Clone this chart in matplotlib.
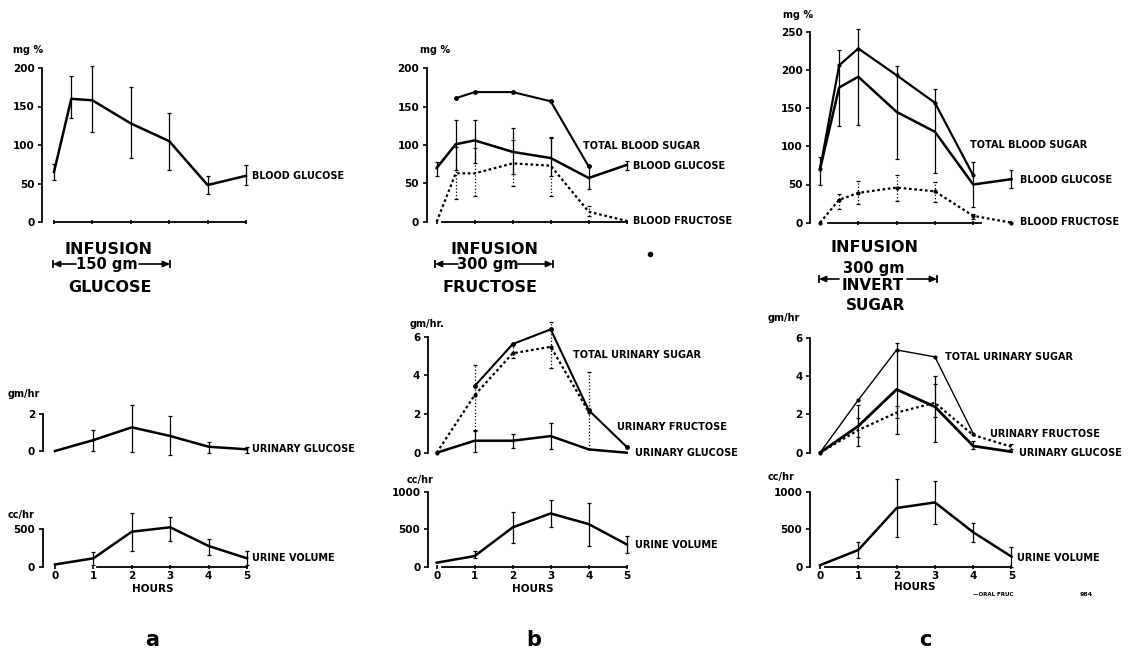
import matplotlib
matplotlib.use("Agg")
import matplotlib.pyplot as plt
from matplotlib.patches import FancyArrowPatch

# --- DATA ---
hours = [0, 1, 2, 3, 4, 5]

# column a : 150 gm glucose
a_bg_hours = [0, 0.45, 1, 2, 3, 4, 5]
a_bg = [65, 160, 158, 128, 105, 48, 60]
a_bg_lo = [55, 135, 117, 83, 68, 37, 48]
a_bg_hi = [75, 190, 202, 175, 142, 60, 74]

a_ug = [0, 0.59, 1.28, 0.81, 0.23, 0.09]
a_ug_lo = [None, 0.02, -0.04, -0.22, -0.09, -0.13]
a_ug_hi = [None, 1.13, 2.47, 1.89, 0.50, 0.23]

a_vol = [30, 112, 468, 527, 277, 112]
a_vol_lo = [None, 22, 214, 348, 156, 22]
a_vol_hi = [None, 196, 714, 668, 366, 210]

# column b : 300 gm fructose
b_tbs_hours = [0.5, 1, 2, 3, 4]
b_tbs = [161, 169, 169, 157, 72]
b_bg_hours = [0, 0.5, 1, 2, 3, 4, 5]
b_bg = [70, 101, 106, 91, 83, 57, 74]
b_bg_lo = [59, 67, 76, 62, 60, 43, 68]
b_bg_hi = [78, 132, 133, 122, 109, 72, 79]
b_bf = [0, 63, 63, 76, 73, 13, 1]
b_bf_lo = [None, 30, 33, 46, 34, 7, None]
b_bf_hi = [None, 98, 96, 106, 111, 20, None]

b_tus_hours = [1, 2, 3, 4, 5]
b_tus = [3.45, 5.62, 6.38, 2.2, 0.3]
b_uf_hours = [0, 1, 2, 3, 4]
b_uf = [0, 2.98, 5.14, 5.48, 2.12]
b_uf_lo = [None, 1.17, 4.9, 4.36, 0.2]
b_uf_hi = [None, 4.53, 5.6, 6.78, 4.19]
b_ug = [0, 0.62, 0.62, 0.86, 0.17, 0.0]
b_ug_lo = [None, 0.05, 0.22, 0.17, None, None]
b_ug_hi = [None, 1.14, 0.97, 1.55, None, None]

b_vol = [54, 143, 527, 714, 571, 299]
b_vol_lo = [None, 112, 321, 536, 277, 179]
b_vol_hi = [None, 214, 737, 893, 848, 411]

# column c : 300 gm invert sugar
c_tbs_hours = [0, 0.5, 1, 2, 3, 4]
c_tbs = [70, 206, 228, 193, 157, 62]
c_bg_hours = [0, 0.5, 1, 2, 3, 4, 5]
c_bg = [70, 177, 191, 145, 119, 50, 57]
c_bg_lo = [49, 127, 128, 83, 65, 21, 45]
c_bg_hi = [86, 226, 253, 205, 175, 79, 69]
c_bf = [0, 30, 39, 46, 41, 9, 0]
c_bf_lo = [None, 18, 25, 28, 27, 5, None]
c_bf_hi = [None, 37, 55, 62, 53, 12, None]

c_tus_hours = [0, 1, 2, 3, 4]
c_tus = [0, 2.75, 5.36, 5.0, 1.0]
c_ug = [0, 1.39, 3.3, 2.4, 0.35, 0.05]
c_ug_lo = [None, 0.35, 0.96, 0.57, 0.2, None]
c_ug_hi = [None, 2.49, 5.74, 4.0, 0.6, None]
c_uf = [0, 1.18, 2.09, 2.6, 0.92, 0.31]
c_uf_lo = [None, 0.8, 1.79, 1.84, None, 0.2]
c_uf_hi = [None, 1.8, 2.43, 3.58, None, 0.45]

c_vol = [20, 224, 786, 862, 462, 135]
c_vol_lo = [None, 112, 395, 574, 336, 0]
c_vol_hi = [None, 327, 1177, 1146, 592, 260]

# --- FIGURE ---
W, H = 1136, 654
plt.rcParams["font.family"] = "DejaVu Sans"
plt.rcParams["font.weight"] = "bold"
fig = plt.figure(figsize=(W / 100, H / 100), dpi=100)

DOT = (0, (1.2, 1.2))
FS = 7


def panel(x0, pph, y0, ppu, ylim, yticks, spine_top, base=None, xlabels=False,
          spine_h=-0.27, xlim=(-0.6, 5.6)):
    # place axes so that hour 0 sits at pixel x0 and value 0 at pixel y0
    left = (x0 + xlim[0] * pph) / W
    width = (xlim[1] - xlim[0]) * pph / W
    bot_px = y0 - ylim[0] * ppu
    top_px = y0 - ylim[1] * ppu
    ax = fig.add_axes([left, 1 - bot_px / H, width, (bot_px - top_px) / H])
    ax.set_xlim(xlim)
    ax.set_ylim(ylim)
    ax.patch.set_alpha(0)
    for s in ["top", "right"]:
        ax.spines[s].set_visible(False)
    ax.spines["left"].set_position(("data", spine_h))
    ax.spines["left"].set_bounds(0, spine_top)
    ax.spines["left"].set_linewidth(1.3)
    ax.set_yticks(yticks)
    ax.tick_params(axis="y", length=3, width=1.2, pad=2.5, labelsize=7.5)
    if base is None:
        ax.spines["bottom"].set_visible(False)
        ax.set_xticks([])
    else:
        ax.spines["bottom"].set_position(("data", 0))
        ax.spines["bottom"].set_bounds(*base)
        ax.spines["bottom"].set_linewidth(1.3)
        ax.set_xticks(hours)
        ax.tick_params(axis="x", length=2.5, width=1.2, direction="inout", pad=1.5,
                       labelsize=7.5)
        if not xlabels:
            ax.set_xticklabels([])
    return ax


def line(ax, x, y, lw=1.8, ls="-", ms=0):
    ax.plot(x, y, color="k", lw=lw, ls=ls, marker="o" if ms else None, ms=ms,
            clip_on=False)


def errs(ax, x, y, lo, hi, ls="-"):
    idx = [i for i in range(len(x)) if lo[i] is not None]
    xs = [x[i] for i in idx]
    ys = [y[i] for i in idx]
    yerr = [[y[i] - lo[i] for i in idx], [hi[i] - y[i] for i in idx]]
    eb = ax.errorbar(xs, ys, yerr=yerr, fmt="none", ecolor="k", elinewidth=0.9,
                     capsize=1.6, capthick=0.9, clip_on=False)
    eb[2][0].set_linestyle(ls)


def lab(ax, x, y, s, size=FS):
    ax.text(x, y, s, fontsize=size, fontweight="bold", va="center", ha="left",
            clip_on=False)


def unit(x, y, s):
    fig.text(x / W, 1 - y / H, s, fontsize=7, fontweight="bold", va="center", ha="left")


# ---------- column a ----------
ax = panel(54, 38.4, 222, 0.77, (-15, 215), [0, 50, 100, 150, 200], 200, base=(0, 5),
           spine_h=-0.3)
line(ax, a_bg_hours, a_bg)
errs(ax, a_bg_hours, a_bg, a_bg_lo, a_bg_hi)
lab(ax, 5.16, 60, "BLOOD GLUCOSE")
unit(13, 50, "mg %")

ax = panel(55, 38.4, 451, 18.5, (-0.5, 2.6), [0, 2], 2, spine_h=-0.32)
line(ax, hours, a_ug)
errs(ax, hours, a_ug, a_ug_lo, a_ug_hi)
lab(ax, 5.14, 0.09, "URINARY GLUCOSE")
unit(8, 394, "gm/hr")

ax = panel(55, 38.4, 566.7, 0.0748, (-60, 620), [0, 500], 500, base=(1.1, 5),
           xlabels=True, spine_h=-0.32)
line(ax, hours, a_vol)
errs(ax, hours, a_vol, a_vol_lo, a_vol_hi)
lab(ax, 5.14, 112, "URINE VOLUME")
unit(8, 515, "cc/hr")
fig.text(153 / W, 1 - 589 / H, "HOURS", fontsize=7.5, fontweight="bold",
         ha="center", va="center")

# ---------- column b ----------
ax = panel(436.7, 38, 221.7, 0.767, (-15, 215), [0, 50, 100, 150, 200], 200,
           base=(0.13, 5), spine_h=-0.26)
line(ax, b_tbs_hours, b_tbs, lw=1.5, ms=2.5)
line(ax, b_bg_hours, b_bg)
errs(ax, b_bg_hours, b_bg, b_bg_lo, b_bg_hi)
line(ax, b_bg_hours, b_bf, lw=1.6, ls=DOT)
errs(ax, b_bg_hours, b_bf, b_bf_lo, b_bf_hi, ls=":")
lab(ax, 3.85, 99, "TOTAL BLOOD SUGAR")
lab(ax, 5.17, 73, "BLOOD GLUCOSE")
lab(ax, 5.17, 1, "BLOOD FRUCTOSE")
unit(420, 50, "mg %")

ax = panel(436.7, 38, 452.7, 19.33, (-0.5, 6.8), [0, 2, 4, 6], 6, spine_h=-0.23)
line(ax, b_tus_hours, b_tus, lw=1.5, ms=2.5)
line(ax, b_uf_hours, b_uf, lw=1.6, ls=DOT, ms=2)
errs(ax, b_uf_hours, b_uf, b_uf_lo, b_uf_hi, ls=":")
line(ax, hours, b_ug)
errs(ax, hours, b_ug, b_ug_lo, b_ug_hi)
lab(ax, 3.59, 5.05, "TOTAL URINARY SUGAR")
lab(ax, 4.74, 1.33, "URINARY FRUCTOSE")
lab(ax, 5.22, 0.0, "URINARY GLUCOSE")
unit(410, 324, "gm/hr.")

ax = panel(436.7, 38, 566.7, 0.0746, (-80, 1250), [0, 500, 1000], 1000,
           base=(0.13, 5), xlabels=True, spine_h=-0.23)
line(ax, hours, b_vol)
errs(ax, hours, b_vol, b_vol_lo, b_vol_hi)
lab(ax, 5.22, 293, "URINE VOLUME")
unit(407, 480, "cc/hr")
fig.text(533 / W, 1 - 589 / H, "HOURS", fontsize=7.5, fontweight="bold",
         ha="center", va="center")

# ---------- column c ----------
ax = panel(820, 38.3, 222.7, 0.764, (-15, 265), [0, 50, 100, 150, 200, 250], 250,
           base=(0.2, 4.2), spine_h=-0.26)
line(ax, c_tbs_hours, c_tbs, lw=1.6, ms=2)
line(ax, c_bg_hours, c_bg)
errs(ax, c_bg_hours, c_bg, c_bg_lo, c_bg_hi)
line(ax, c_bg_hours, c_bf, lw=1.6, ls=DOT, ms=2)
errs(ax, c_bg_hours, c_bf, c_bf_lo, c_bf_hi, ls=":")
lab(ax, 3.92, 102, "TOTAL BLOOD SUGAR")
lab(ax, 5.22, 56, "BLOOD GLUCOSE")
lab(ax, 5.22, 1, "BLOOD FRUCTOSE")
unit(783, 15, "mg %")

ax = panel(820, 38.3, 452.7, 19.17, (-0.5, 6.6), [0, 2, 4, 6], 6, spine_h=-0.26)
line(ax, c_tus_hours, c_tus, lw=1.0, ms=2)
line(ax, hours, c_ug, lw=2.0)
errs(ax, hours, c_ug, c_ug_lo, c_ug_hi)
line(ax, hours, c_uf, lw=1.6, ls=DOT)
errs(ax, hours, c_uf, c_uf_lo, c_uf_hi, ls=":")
lab(ax, 3.26, 5.0, "TOTAL URINARY SUGAR")
lab(ax, 4.44, 0.98, "URINARY FRUCTOSE")
lab(ax, 5.2, 0.0, "URINARY GLUCOSE")
unit(768, 318, "gm/hr")

ax = panel(820, 38.3, 566.7, 0.0746, (-80, 1250), [0, 500, 1000], 1000,
           base=(0.13, 5), xlabels=True, spine_h=-0.26)
line(ax, hours, c_vol)
errs(ax, hours, c_vol, c_vol_lo, c_vol_hi)
lab(ax, 5.14, 117, "URINE VOLUME")
unit(768, 477, "cc/hr")
fig.text(915 / W, 1 - 587 / H, "HOURS", fontsize=7.5, fontweight="bold",
         ha="center", va="center")
fig.text(973 / W, 1 - 595 / H, "\u2014ORAL FRUC", fontsize=4, fontweight="bold",
         ha="left", va="center")
fig.text(1080 / W, 1 - 595 / H, "984", fontsize=4.5, fontweight="bold",
         ha="left", va="center")


# ---------- infusion captions ----------
def half_arrow(x_in, x_out, y):
    ya = 1 - y / H
    fig.add_artist(FancyArrowPatch((x_in / W, ya), (x_out / W, ya),
                                   transform=fig.transFigure,
                                   arrowstyle="-|>,head_length=4,head_width=1.8",
                                   lw=1.2, color="k", shrinkA=0, shrinkB=0))
    fig.add_artist(plt.Line2D([x_out / W, x_out / W], [ya - 3 / H, ya + 3 / H],
                              lw=1.3, color="k", transform=fig.transFigure))


def infusion(xl, xr, gap, y_arrow, rows):
    for (cx, yy, s, fs) in rows:
        fig.text(cx / W, 1 - yy / H, s, fontsize=fs, fontweight="bold",
                 ha="center", va="center")
    half_arrow(gap[0], xl, y_arrow)
    half_arrow(gap[1], xr, y_arrow)


infusion(53, 170, (76, 139), 264,
         [(108, 249, "INFUSION", 11.5), (107, 264, "150 gm", 10.5),
          (110, 287, "GLUCOSE", 11.5)])
infusion(435, 553, (458, 518), 264,
         [(494, 249, "INFUSION", 11.5), (488, 264, "300 gm", 10.5),
          (490, 287, "FRUCTOSE", 11.5)])
infusion(819, 937, (839, 907), 279,
         [(875, 248, "INFUSION", 11.5), (874, 268, "300 gm", 10.5),
          (873, 286, "INVERT", 11), (876, 305, "SUGAR", 11)])

fig.add_artist(plt.Line2D([650 / W], [1 - 254 / H], marker="o", ms=3, color="k",
                          transform=fig.transFigure))

# panel letters
for (x, s) in [(152, "a"), (534, "b"), (925, "c")]:
    fig.text(x / W, 1 - 640 / H, s, fontsize=15, fontweight="bold",
             ha="center", va="center")

fig.savefig("out.png", dpi=100)
